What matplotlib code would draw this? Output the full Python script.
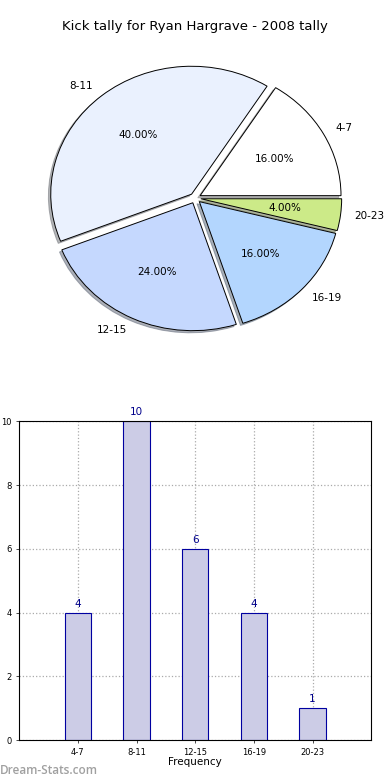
import matplotlib
matplotlib.use("Agg")
import matplotlib.pyplot as plt

# data
ranges = ["4-7", "8-11", "12-15", "16-19", "20-23"]
kicks = [4, 10, 6, 4, 1]
pie_colors = ["#ffffff", "#eaf1fe", "#c5d8fe", "#b3d6fe", "#ccea88"]
y_ticks = [0, 2, 4, 6, 8, 10]

fig = plt.figure(figsize=(3.9, 7.8), dpi=100)

# pie (top)
ax_pie = fig.add_axes([0.049, 0.541, 0.903, 0.41])
wedges, texts, autotexts = ax_pie.pie(
    kicks, labels=ranges, colors=pie_colors, explode=[0.04] * len(kicks),
    autopct="%1.2f%%", startangle=0,
    shadow={"ox": -0.012, "oy": -0.012, "shade": 0.55},
    wedgeprops=dict(edgecolor="black", linewidth=0.7),
    textprops=dict(fontsize=7.5),
)
ax_pie.set_aspect("auto")
ax_pie.set_xlim(-1.25, 1.25)
ax_pie.set_ylim(-1.25, 1.25)
ax_pie.set_title("Kick tally for Ryan Hargrave - 2008 tally", fontsize=9.5, pad=6)

# bars (bottom)
ax_bar = fig.add_axes([0.049, 0.051, 0.903, 0.409])
pos = list(range(len(ranges)))
ax_bar.bar(pos, kicks, width=0.45, color="#cccce6", edgecolor="#0000a0",
           linewidth=0.8, zorder=2)
for x, v in zip(pos, kicks):
    ax_bar.text(x, v + 0.12, str(v), ha="center", va="bottom",
                fontsize=7.5, color="#00008b")
ax_bar.set_xlim(-1, len(ranges))
ax_bar.set_ylim(0, 10)
ax_bar.set_xticks(pos)
ax_bar.set_xticklabels(ranges)
ax_bar.set_yticks(y_ticks)
ax_bar.tick_params(labelsize=6, length=2, width=0.5)
ax_bar.grid(True, linestyle=":", color="#aaaaaa", linewidth=0.9, zorder=0)
ax_bar.set_axisbelow(True)
ax_bar.set_xlabel("Frequency", fontsize=7.5, labelpad=0)
ax_bar.set_ylabel("Kicks in Range", fontsize=7.5, labelpad=6)

fig.text(0.0, 0.004, "Dream-Stats.com", fontsize=8.5, color="#a0a0a0",
         family="Open Sans", weight="semibold", ha="left", va="bottom")

fig.savefig("out.png", dpi=100)
plt.close(fig)
